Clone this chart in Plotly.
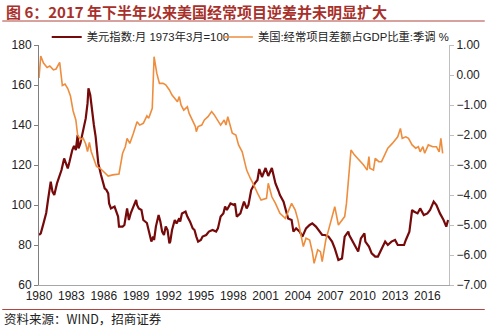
import plotly.graph_objects as go

# ---- data ----
usd_dates = ["1980-01","1980-03","1980-06","1980-09","1980-11","1981-02","1981-04","1981-06","1981-09","1981-11",
             "1982-02","1982-05","1982-07","1982-09","1982-11","1983-02","1983-04","1983-06","1983-08","1983-09",
             "1983-11","1984-01","1984-03","1984-05","1984-07","1984-08","1984-10","1984-12","1985-02","1985-04",
             "1985-05","1985-07","1985-10","1986-02","1986-04","1986-06","1986-07","1986-09","1987-01","1987-03",
             "1987-05","1987-06","1987-10","1987-12","1988-02","1988-03","1988-05","1988-07","1988-10","1989-01",
             "1989-02","1989-04","1989-07","1989-09","1990-01","1990-04","1990-06","1990-08","1990-09","1990-11",
             "1991-02","1991-04","1991-06","1991-08","1991-10","1991-12","1992-02","1992-03","1992-05","1992-08",
             "1992-10","1993-01","1993-02","1993-04","1993-08","1993-10","1994-01","1994-04","1994-06","1994-08",
             "1994-10","1995-01","1995-03","1995-07","1995-10","1996-02","1996-06","1996-08","1996-11","1997-02",
             "1997-04","1997-06","1997-10","1998-02","1998-03","1998-05","1998-09","1999-01","1999-04","1999-06",
             "1999-09","2000-01","2000-04","2000-06","2000-09","2001-01","2001-04","2001-08","2001-12","2002-03",
             "2002-05","2002-09","2003-01","2003-02","2003-06","2003-08","2003-11","2004-03","2004-06","2004-10",
             "2005-02","2005-05","2005-09","2006-01","2006-04","2006-07","2006-11","2007-03","2007-06","2007-10",
             "2008-02","2008-05","2008-09","2008-10","2009-01","2009-04","2009-08","2009-11","2010-03","2010-04",
             "2010-08","2010-11","2011-03","2011-06","2011-10","2012-02","2012-05","2012-09","2013-01","2013-04",
             "2013-08","2013-11","2014-01","2014-05","2014-08","2014-10","2015-02","2015-05","2015-09","2016-01",
             "2016-04","2016-08","2016-11","2017-03","2017-07","2017-10","2017-12"]
usd_index = [85.0,85.8,90.8,96.0,102.5,111.7,106.7,105.0,110.8,113.3,
             117.5,123.3,120.8,118.3,121.7,127.5,129.5,127.5,135.0,128.3,
             130.8,135.0,139.2,143.3,150.8,158.3,155.0,145.8,140.0,134.2,
             128.3,120.8,115.0,108.3,107.5,105.8,100.8,98.3,99.2,96.7,
             94.2,89.2,89.2,90.0,95.0,98.3,92.5,95.8,99.2,102.5,
             100.0,98.3,97.5,92.5,91.0,85.0,81.7,84.2,82.5,89.2,
             95.0,91.7,86.7,85.0,89.2,87.5,80.8,81.7,87.5,92.5,
             90.8,93.3,91.7,95.8,96.7,94.2,91.7,88.3,87.5,84.2,
             81.7,82.5,84.2,85.0,86.7,87.5,86.7,88.3,94.2,95.8,
             99.2,97.5,100.8,100.0,100.8,94.2,95.8,101.7,98.3,100.0,
             107.5,110.8,112.5,118.0,114.0,118.5,114.5,118.5,110.8,107.5,
             105.0,101.7,95.8,93.3,92.5,86.7,88.3,86.7,84.2,88.3,
             90.0,90.8,89.2,86.7,85.0,85.0,84.2,81.7,78.3,72.5,
             73.3,84.2,86.7,85.0,82.5,80.0,76.7,83.3,85.8,81.7,
             79.2,75.8,74.2,74.2,78.3,81.7,80.0,81.7,82.5,80.0,
             80.0,80.0,82.5,86.7,97.5,96.7,95.8,98.3,95.0,95.8,
             97.5,101.7,100.0,95.8,92.5,89.2,92.5]

ca_dates = ["1980-01","1980-03","1980-06","1980-10","1981-01","1981-05","1981-08","1981-12","1982-03","1982-06",
            "1982-09","1982-12","1983-03","1983-06","1983-08","1983-11","1984-02","1984-05","1984-07","1984-09",
            "1984-11","1985-02","1985-05","1985-09","1986-01","1986-06","1986-11","1987-06","1987-10","1988-01",
            "1988-03","1988-06","1988-10","1989-02","1989-05","1989-09","1990-01","1990-03","1990-05","1990-07",
            "1990-09","1990-12","1991-03","1991-07","1991-10","1992-02","1992-05","1992-09","1992-11","1993-01",
            "1993-03","1993-06","1993-10","1993-12","1994-03","1994-07","1994-08","1994-10","1995-02","1995-05",
            "1995-09","1996-01","1996-04","1996-08","1996-11","1997-03","1997-05","1997-07","1997-08","1997-10",
            "1997-12","1998-04","1998-07","1998-11","1999-01","1999-04","1999-08","1999-11","2000-05","2000-08",
            "2001-02","2001-04","2001-08","2001-12","2002-05","2002-11","2003-06","2003-10","2004-01","2004-07",
            "2004-10","2005-02","2005-05","2005-07","2005-11","2006-02","2006-04","2006-08","2006-11","2007-03",
            "2007-06","2007-10","2008-02","2008-05","2008-07","2008-12","2009-04","2009-09","2010-02","2010-06",
            "2010-08","2010-09","2011-01","2011-03","2011-07","2011-10","2012-02","2012-05","2012-10","2013-04",
            "2013-07","2013-09","2014-01","2014-04","2014-08","2014-12","2015-03","2015-05","2015-08","2015-10",
            "2016-02","2016-07","2016-11","2017-02","2017-04","2017-06"]
ca_gdp = [-0.10,0.63,0.40,0.25,0.30,0.17,0.20,0.42,-0.35,-0.30,
          -0.45,-0.70,-1.20,-1.50,-2.00,-2.15,-2.10,-2.30,-2.55,-2.25,
          -2.55,-2.83,-3.05,-3.11,-3.22,-3.37,-3.33,-3.30,-2.61,-2.39,
          -2.11,-2.28,-1.94,-1.56,-1.67,-1.61,-1.36,-1.44,-1.28,-1.11,
          0.61,0.06,-0.28,-0.28,-0.33,-0.50,-0.67,-0.83,-0.89,-0.72,
          -1.00,-1.17,-1.06,-1.28,-1.48,-1.72,-1.89,-1.72,-1.67,-1.50,
          -1.39,-1.22,-1.33,-1.50,-1.67,-1.50,-1.67,-1.39,-1.50,-1.67,
          -1.94,-2.00,-2.33,-2.56,-2.83,-3.17,-3.44,-3.61,-4.00,-4.17,
          -4.11,-3.61,-4.06,-4.28,-4.61,-4.78,-4.28,-4.50,-4.83,-5.72,
          -5.44,-5.50,-5.89,-6.28,-5.83,-5.89,-6.22,-5.50,-5.17,-4.72,
          -4.39,-5.00,-4.83,-4.72,-4.28,-2.50,-2.67,-2.83,-3.00,-3.17,
          -2.72,-3.11,-3.17,-2.78,-2.89,-2.89,-2.61,-2.44,-2.28,-2.06,
          -1.78,-2.11,-2.06,-2.11,-2.33,-2.44,-2.39,-2.56,-2.39,-2.61,
          -2.33,-2.39,-2.39,-2.56,-2.11,-2.61]

x_tick_years = [1980,1983,1986,1989,1992,1995,1998,2001,2004,2007,2010,2013,2016]

title_text = "图 6：2017 年下半年以来美国经常项目逆差并未明显扩大"
source_text = "资料来源：WIND，招商证券"
name_usd = "美元指数:月 1973年3月=100"
name_ca = "美国:经常项目差额占GDP比重:季调 %"

# ---- figure ----
W, H = 499, 327
L, R, T, B = 38, 37, 45, 42
pw, ph = W - L - R, H - T - B

def px(xp):
    return (xp - L) / pw

def py(yp):
    return (H - B - yp) / ph

fig = go.Figure()
fig.add_trace(go.Scatter(x=ca_dates, y=ca_gdp, name=name_ca, mode="lines",
                         line=dict(color="#EE8D3E", width=1.6), yaxis="y2", legend="legend2"))
fig.add_trace(go.Scatter(x=usd_dates, y=usd_index, name=name_usd, mode="lines",
                         line=dict(color="#760A0A", width=2.2), yaxis="y", legend="legend"))

tick_font = dict(family="Liberation Sans, Arial, sans-serif", size=12, color="#222222")
legend_font = dict(family="Liberation Sans, Noto Sans CJK SC, sans-serif", size=11.3, color="#222222")

fig.update_layout(
    width=W, height=H,
    margin=dict(l=L, r=R, t=T, b=B),
    paper_bgcolor="white", plot_bgcolor="white",
    showlegend=True,
    legend=dict(orientation="h", x=px(46), y=py(37), xanchor="left", yanchor="middle",
                font=legend_font, bgcolor="rgba(0,0,0,0)", itemwidth=30, borderwidth=0),
    legend2=dict(orientation="h", x=px(223), y=py(37), xanchor="left", yanchor="middle",
                 font=legend_font, bgcolor="rgba(0,0,0,0)", itemwidth=30, borderwidth=0),
    xaxis=dict(type="date", range=["1980-01-01", "2018-01-01"],
               tickvals=[f"{y}-01-01" for y in x_tick_years],
               ticktext=[str(y) for y in x_tick_years],
               showgrid=False, zeroline=False, showline=True, linecolor="#A6A6A6", linewidth=1,
               ticks="", tickfont=tick_font),
    yaxis=dict(range=[60, 180], dtick=20, tick0=60, showgrid=False, zeroline=False,
               showline=True, linecolor="#808080", linewidth=1,
               ticks="outside", ticklen=4, tickcolor="#808080", tickfont=tick_font),
    yaxis2=dict(range=[-7, 1], dtick=1, tick0=-7, tickformat=".2f", overlaying="y", side="right",
                showgrid=False, zeroline=False, showline=True, linecolor="#BFBFBF", linewidth=1,
                ticks="outside", ticklen=4, tickcolor="#BFBFBF", tickfont=tick_font),
)

fig.add_annotation(text=f"<b>{title_text}</b>", xref="paper", yref="paper",
                   x=px(2), y=py(11), xanchor="left", yanchor="middle", showarrow=False,
                   font=dict(family="Noto Sans CJK SC", size=15, color="#A8302B"))
fig.add_annotation(text=source_text, xref="paper", yref="paper",
                   x=px(0), y=py(318), xanchor="left", yanchor="middle", showarrow=False,
                   font=dict(family="Noto Sans CJK SC", size=12.5, color="#222222"))

fig.add_shape(type="line", xref="paper", yref="paper", x0=px(0), x1=px(W), y0=py(21), y1=py(21),
              line=dict(color="#B0463F", width=1))
fig.add_shape(type="line", xref="paper", yref="paper", x0=px(0), x1=px(W), y0=py(309.5), y1=py(309.5),
              line=dict(color="#B0463F", width=1))

fig.write_html("out.html")
